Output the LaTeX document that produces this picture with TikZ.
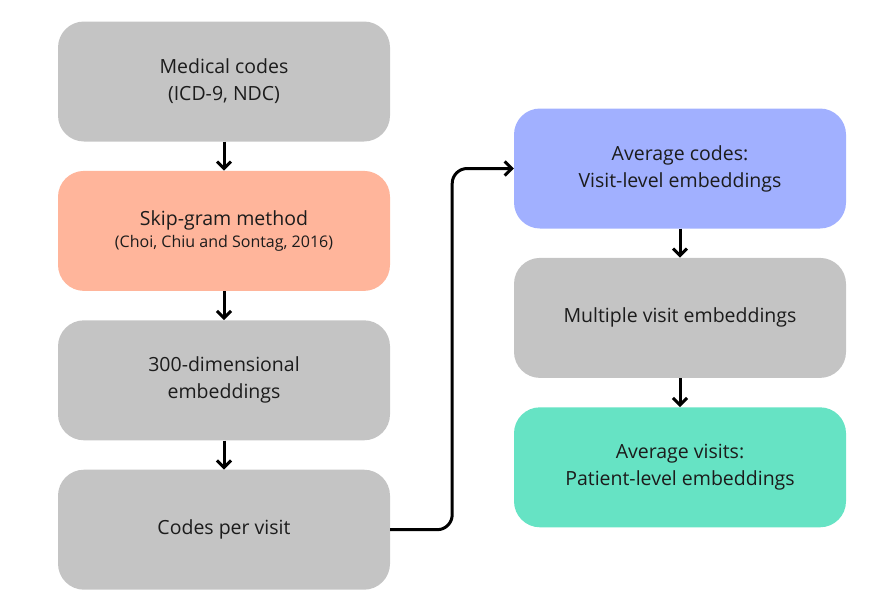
\documentclass[tikz,border=0pt]{standalone}
\usepackage{fontspec}
\setmainfont{Open Sans}
\usetikzlibrary{positioning}
\usetikzlibrary{arrows.meta}

\definecolor{boxgrey}{HTML}{C4C4C4}
\definecolor{boxsalmon}{HTML}{FFB59B}
\definecolor{boxblue}{HTML}{A1B0FF}
\definecolor{boxgreen}{HTML}{66E3C4}
\definecolor{textdark}{HTML}{1C1C1C}

\begin{document}
\begin{tikzpicture}[x=1pt, y=1pt,
  stepbox/.style={rectangle, rounded corners=26pt, minimum width=332pt, minimum height=120pt,
    align=center, text=textdark, font=\fontsize{19.5}{27}\selectfont, inner sep=0pt},
  flow/.style={line width=3pt, -{Straight Barb[length=7pt, width=14pt, line width=3pt]}}]

% Bounding box of the picture
\useasboundingbox (0,0) rectangle (893,-613);

% Left column
\node[stepbox, fill=boxgrey] (codes) at (224,-81.5) {Medical codes\\(ICD-9, NDC)};
\node[stepbox, fill=boxsalmon, below=29pt of codes] (skip)
  {Skip-gram method\\[-5pt]{\fontsize{16}{20}\selectfont (Choi, Chiu and Sontag, 2016)}};
\node[stepbox, fill=boxgrey, below=29pt of skip] (emb) {300-dimensional\\embeddings};
\node[stepbox, fill=boxgrey, below=29pt of emb] (pervisit) {Codes per visit};

% Right column
\node[stepbox, fill=boxblue] (avgcodes) at (680,-168.5) {Average codes:\\Visit-level embeddings};
\node[stepbox, fill=boxgrey, below=29pt of avgcodes] (multi) {Multiple visit embeddings};
\node[stepbox, fill=boxgreen, below=29pt of multi] (avgvisits) {Average visits:\\Patient-level embeddings};

% Arrows
\draw[flow] (codes) -- (skip);
\draw[flow] (skip) -- (emb);
\draw[flow] (emb) -- (pervisit);
\draw[flow, rounded corners=15pt] (pervisit.east) -- ++(62,0) |- (avgcodes.west);
\draw[flow] (avgcodes) -- (multi);
\draw[flow] (multi) -- (avgvisits);

\end{tikzpicture}
\end{document}
